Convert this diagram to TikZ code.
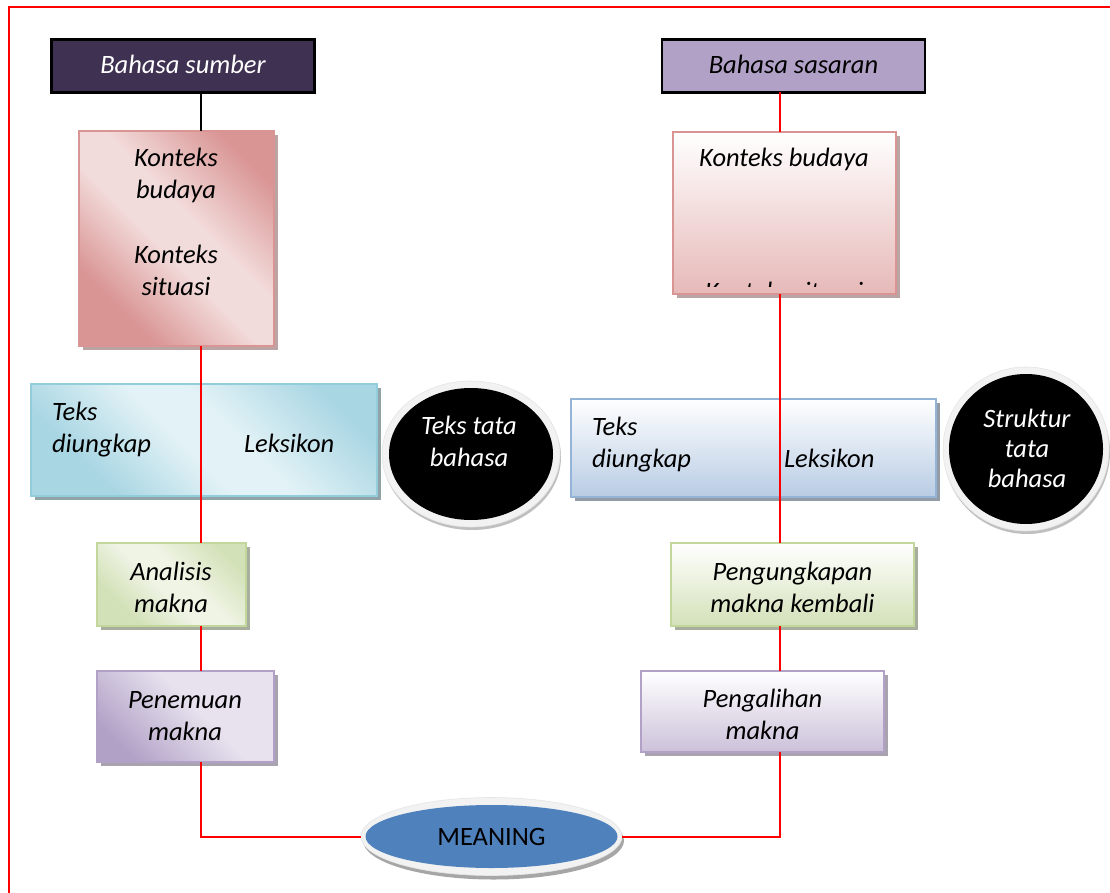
\documentclass[tikz,border=0pt]{standalone}
\usepackage{fontspec}
\setmainfont{Carlito}
\usetikzlibrary{shadows,shapes.geometric}

% palette
\definecolor{srcdark}{HTML}{3F3151}
\definecolor{tgtlilac}{HTML}{B2A1C7}
\definecolor{pinkD}{HTML}{D99594}
\definecolor{pinkL}{HTML}{F2DCDB}
\definecolor{pinkB}{HTML}{E6B9B8}
\definecolor{tealD}{HTML}{A9D6E3}
\definecolor{tealL}{HTML}{E2F2F6}
\definecolor{tealB}{HTML}{92CDDC}
\definecolor{blueB}{HTML}{95B3D7}
\definecolor{blueD}{HTML}{B8CCE4}
\definecolor{greenD}{HTML}{D3E1B8}
\definecolor{greenL}{HTML}{EFF4E5}
\definecolor{greenB}{HTML}{C3D69B}
\definecolor{lilacD}{HTML}{B2A1C7}
\definecolor{lilacL}{HTML}{E7E2EE}
\definecolor{lilacB}{HTML}{CCC1DA}
\definecolor{meanblue}{HTML}{4F81BD}
\definecolor{linkred}{HTML}{FF0000}

% diagonal gradients: dark corners, light band through the middle
\pgfdeclarehorizontalshading{pinkdiag}{100bp}{color(0bp)=(pinkD); color(28bp)=(pinkD); color(46bp)=(pinkL); color(56bp)=(pinkL); color(76bp)=(pinkD); color(100bp)=(pinkD)}
\pgfdeclarehorizontalshading{tealdiag}{100bp}{color(0bp)=(tealD); color(28bp)=(tealD); color(46bp)=(tealL); color(56bp)=(tealL); color(76bp)=(tealD); color(100bp)=(tealD)}
\pgfdeclarehorizontalshading{greendiag}{100bp}{color(0bp)=(greenD); color(28bp)=(greenD); color(46bp)=(greenL); color(56bp)=(greenL); color(76bp)=(greenD); color(100bp)=(greenD)}
\pgfdeclarehorizontalshading{lilacdiag}{100bp}{color(0bp)=(lilacD); color(25bp)=(lilacD); color(55bp)=(lilacL); color(100bp)=(lilacL)}

\tikzset{
  lbl/.style={font=\fontsize{26.5}{32}\selectfont\itshape, inner sep=0pt, outer sep=0pt, align=center},
  card/.style={rectangle, inner sep=0pt, outer sep=0pt, line width=2pt},
  headbox/.style={card, draw=black, line width=2.5pt},
  cast/.style={drop shadow={shadow xshift=4pt, shadow yshift=-4pt, fill=#1, opacity=1}},
  link/.style={draw=linkred, line width=2pt},
  rim/.style={ellipse, inner sep=0pt, outer sep=0pt, fill=black!5, draw=black!10, line width=0.6pt,
              drop shadow={shadow xshift=1pt, shadow yshift=-3pt, fill=black!25, opacity=1}},
  core/.style={ellipse, inner sep=0pt, outer sep=0pt},
}

\begin{document}
\begin{tikzpicture}[x=1pt, y=-1pt]
\useasboundingbox (0,0) rectangle (1110,893);
\fill[white] (0,0) rectangle (1110,893);

% page frame
\draw[linkred, line width=2pt] (9,893) -- (9,7) -- (1110,7);

% guide verticals of the two chains
\coordinate (spineL) at (201,0);
\coordinate (spineR) at (780,0);

% multi-line labels are placed by the baseline of their last line

% ---- source language column
\node[headbox, fill=srcdark, minimum width=263pt, minimum height=53pt] (src) at (183,66) {};
\node[lbl, text=white, anchor=base] (srcT) at (183,74) {Bahasa sumber};

\node[card, draw=pinkD, cast=pinkD!60!black!55, shade, shading=pinkdiag, shading angle=45,
      minimum width=195pt, minimum height=215pt] (ctxL) at (176.5,238.5) {};
\node[lbl, anchor=base] (ctxLa) at (176,199) {Konteks\\budaya};
\node[lbl, anchor=base] (ctxLb) at (176,295) {Konteks\\situasi};

\node[card, draw=tealB, cast=tealB!50!black!60, shade, shading=tealdiag, shading angle=45,
      minimum width=346pt, minimum height=112pt] (lexL) at (204,440) {};
\node[lbl, align=left, anchor=base west] (lexLa) at (52,452) {Teks\\diungkap};
\node[lbl, anchor=base west] (lexLb) at (244,452) {Leksikon};

\node[card, draw=greenB, cast=greenB!50!black!55, shade, shading=greendiag, shading angle=45,
      minimum width=149pt, minimum height=83pt] (anaL) at (171.5,584.5) {};
\node[lbl, anchor=base] (anaLT) at (171,612) {Analisis\\makna};

\node[card, draw=lilacD, cast=lilacD!55!black!55, shade, shading=lilacdiag, shading angle=45,
      minimum width=177pt, minimum height=91pt] (finL) at (185.5,716.5) {};
\node[lbl, anchor=base] (finLT) at (185,740) {Penemuan\\makna};

% ---- target language column
\node[headbox, fill=tgtlilac, minimum width=263pt, minimum height=53pt] (tgt) at (793.5,66) {};
\node[lbl, anchor=base] (tgtT) at (793.5,74) {Bahasa sasaran};

\node[card, draw=pinkD, cast=pinkD!60!black!55, top color=white, bottom color=pinkB,
      minimum width=223pt, minimum height=162pt] (ctxR) at (784.5,213) {};
\node[lbl, anchor=base] (ctxRa) at (784,167) {Konteks budaya};
\begin{scope}
  \clip (673,132) rectangle (896,286);
  \node[lbl, anchor=base] (ctxRb) at (784,300) {Konteks situasi};
\end{scope}

\node[card, draw=blueB, cast=blueB!50!black!60, top color=white, bottom color=blueD,
      minimum width=365pt, minimum height=98pt] (lexR) at (753.5,448) {};
\node[lbl, align=left, anchor=base west] (lexRa) at (592,467) {Teks\\diungkap};
\node[lbl, anchor=base west] (lexRb) at (784,467) {Leksikon};

\node[card, draw=greenB, cast=greenB!50!black!55, top color=white, bottom color=greenD,
      minimum width=243pt, minimum height=83pt] (anaR) at (792.5,584.5) {};
\node[lbl, anchor=base] (anaRT) at (792.5,612) {Pengungkapan\\makna kembali};

\node[card, draw=lilacD, cast=lilacD!55!black!55, top color=white, bottom color=lilacB,
      minimum width=243pt, minimum height=81pt] (finR) at (762.5,711.5) {};
\node[lbl, anchor=base] (finRT) at (762.5,739) {Pengalihan\\makna};

% ---- grammar discs
\node[rim, minimum width=178pt, minimum height=146pt] (gramL) at (471,454) {};
\node[core, fill=black, minimum width=164pt, minimum height=132pt] (gramLc) at (471,454) {};
\node[lbl, text=white, anchor=base] (gramLT) at (469,466) {Teks tata\\bahasa};

\node[rim, minimum width=166pt, minimum height=164pt] (gramR) at (1026,449) {};
\node[core, fill=black, minimum width=154pt, minimum height=150pt] (gramRc) at (1026,449) {};
\node[lbl, text=white, anchor=base, font=\fontsize{26.5}{30}\selectfont\itshape] (gramRT) at (1027,487) {Struktur\\tata\\bahasa};

% ---- meaning
\node[ellipse, inner sep=0pt, outer sep=0pt, fill=black!5, draw=black!10, line width=0.6pt,
      drop shadow={shadow xshift=2pt, shadow yshift=-4pt, fill=black!35, opacity=1},
      minimum width=261pt, minimum height=78pt] (meaning) at (491.5,836.5) {};
\node[core, fill=meanblue, minimum width=252pt, minimum height=63pt] (meaningc) at (491.5,836.5) {};
\node[inner sep=0pt, font=\fontsize{26.5}{32}\selectfont] (meaningT) at (491.5,836.5) {MEANING};

% ---- connectors
\draw[line width=2pt] (src.south -| spineL) -- (ctxL.north -| spineL);
\draw[link] (ctxL.south -| spineL) -- (anaL.north -| spineL);
\draw[link] (anaL.south -| spineL) -- (finL.north -| spineL);
\draw[link] (finL.south -| spineL) |- (meaning.west);

\draw[link] (tgt.south -| spineR) -- (ctxR.north -| spineR);
\draw[link] (ctxR.south -| spineR) -- (anaR.north -| spineR);
\draw[link] (anaR.south -| spineR) -- (finR.north -| spineR);
\draw[link] (finR.south -| spineR) |- (meaning.east);
\end{tikzpicture}
\end{document}
